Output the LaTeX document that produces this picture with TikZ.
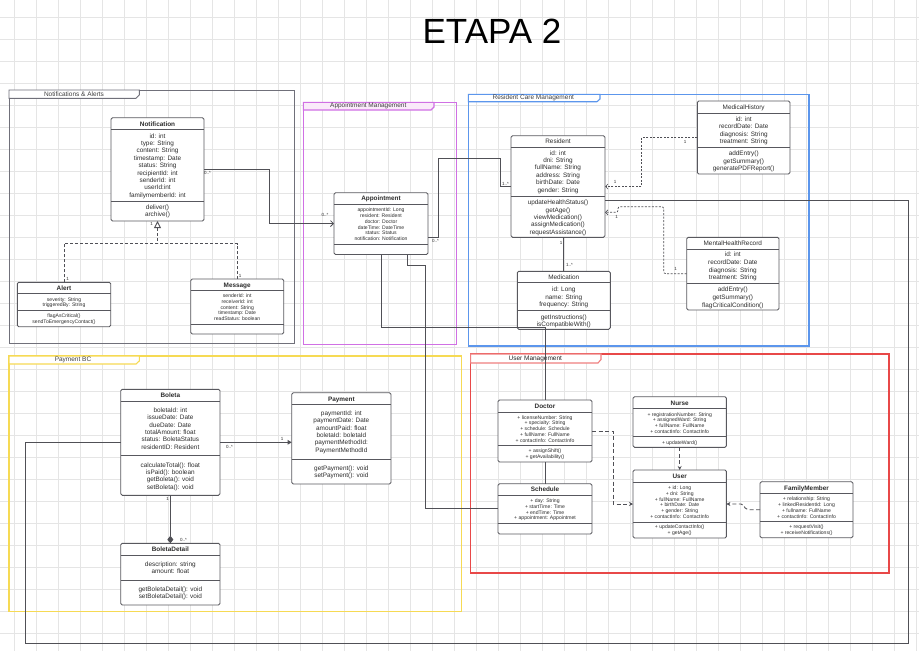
\documentclass[tikz,border=0pt]{standalone}
\usepackage{fontspec}
\setmainfont{Liberation Sans}
\usetikzlibrary{arrows.meta}

\definecolor{gridgray}{RGB}{229,229,229}
\definecolor{clsline}{RGB}{88,88,94}
\definecolor{txt}{RGB}{45,45,45}
\definecolor{conn}{RGB}{80,80,86}
\definecolor{notifgray}{RGB}{112,112,122}
\definecolor{apptpurple}{RGB}{208,112,228}
\definecolor{apptfill}{RGB}{250,234,250}
\definecolor{resblue}{RGB}{92,150,236}
\definecolor{payyellow}{RGB}{246,218,84}
\definecolor{userred}{RGB}{232,72,72}

% rows of a class compartment, baseline on the first row
\newcommand{\classrows}[1]{\begin{tabular}[t]{@{}c@{}}#1\end{tabular}}

\begin{document}
\begin{tikzpicture}[
    x=1pt, y=-1pt,
    every node/.style={text=txt, inner sep=0pt, outer sep=0pt},
    cls/.style={
        rectangle,
        draw=clsline,
        fill=white,
        line width=0.9pt,
        rounded corners=1.5pt,
        anchor=north west
    },
    sep/.style={draw=clsline, line width=0.9pt},
    hdr/.style={font=\fontsize{6.4}{7.4}\selectfont\bfseries, anchor=base},
    hdrlight/.style={font=\fontsize{6.4}{7.4}\selectfont, anchor=base},
    attr/.style={font=\fontsize{6.4}{7.4}\selectfont, anchor=base},
    attrsmall/.style={font=\fontsize{5.1}{5.75}\selectfont, anchor=base},
    mult/.style={font=\fontsize{4.5}{5}\selectfont},
    pkg/.style={line width=1.1pt},
    pkglbl/.style={font=\fontsize{6.5}{7.5}\selectfont, text=black!75},
    assoc/.style={draw=conn, line width=0.8pt},
    real/.style={draw=conn, line width=0.9pt, dash pattern=on 3pt off 2pt},
    dep/.style={draw=conn, line width=0.7pt, dash pattern=on 2pt off 1.5pt},
    dashdep/.style={draw=conn, line width=0.9pt, dash pattern=on 4pt off 2.5pt}
]

\fill[white] (0,0) rectangle (919,651);
\useasboundingbox (0,0) rectangle (919,651);

% background grid
\foreach \gx in {0,...,41}
    \draw[gridgray, line width=0.6pt] (14.7+22*\gx,0) -- (14.7+22*\gx,651);
\foreach \gy in {0,...,28}
    \draw[gridgray, line width=0.6pt] (0,17.3+22*\gy) -- (919,17.3+22*\gy);

\node[font=\fontsize{35}{40}\selectfont, text=black, anchor=base] (title) at (492,43) {ETAPA 2};

% packages
\draw[pkg, draw=notifgray, line width=0.9pt] (9,90) rectangle (294,343.3);
\draw[pkg, draw=notifgray, line width=0.9pt, fill=white] (9,90) -- (139.3,90) -- (139.3,95) -- (136,98.3) -- (9,98.3) -- cycle;
\node[pkglbl] (pkgnotif) at (74,94.4) {Notifications \& Alerts};

\draw[pkg, draw=apptpurple] (303.3,102.3) rectangle (456.7,344.3);
\draw[pkg, draw=apptpurple, fill=apptfill] (303.3,102.3) -- (434,102.3) -- (434,107) -- (431,110) -- (303.3,110) -- cycle;
\node[pkglbl] (pkgappt) at (368.3,106.2) {Appointment Management};

\draw[pkg, draw=resblue] (468.3,94.3) rectangle (809,346);
\draw[pkg, draw=resblue, fill=white] (468.3,94.3) -- (600,94.3) -- (600,99) -- (597,101.7) -- (468.3,101.7) -- cycle;
\node[pkglbl] (pkgres) at (533.3,98.1) {Resident Care Management};

\draw[pkg, draw=payyellow] (9,356) rectangle (461.6,611.7);
\draw[pkg, draw=payyellow, fill=white] (9,356) -- (139.3,356) -- (139.3,361) -- (136,364) -- (9,364) -- cycle;
\node[pkglbl] (pkgpay) at (73,360.1) {Payment BC};

\draw[pkg, draw=userred] (470.6,354) rectangle (889,573);
\draw[pkg, draw=userred!70, fill=white] (470.6,354) -- (601,354) -- (601,359.5) -- (598,363) -- (470.6,363) -- cycle;
\node[pkglbl, text=black!85] (pkguser) at (535.3,358.7) {User Management};

% Notification
\node[cls, minimum width=93, minimum height=103.3] (notif) at (111,117.7) {};
\draw[sep] (111,129.3) -- (204,129.3);
\draw[sep] (111,201.7) -- (204,201.7);
\node[hdr] (notifT) at (157.5,126.3) {Notification};
\node[attr] (notifA) at (157.5,138) {\classrows{id: int\\type: String\\content: String\\timestamp: Date\\status: String\\recipientId: int\\senderId: int\\userId:int\\familymemberId: int}};
\node[attr] (notifM) at (157.5,209.4) {\classrows{deliver()\\archive()}};

% Alert
\node[cls, minimum width=93.4, minimum height=44.4] (alert) at (17.3,282.3) {};
\draw[sep] (17.3,293.3) -- (110.7,293.3);
\draw[sep] (17.3,310) -- (110.7,310);
\node[hdr] (alertT) at (64,290.3) {Alert};
\node[attrsmall] (alertA) at (64,301.1) {\classrows{severity: String\\triggeredBy: String}};
\node[attrsmall] (alertM) at (64,317.8) {\classrows{flagAsCritical()\\sendToEmergencyContact()}};

% Message
\node[cls, minimum width=93, minimum height=55] (msg) at (190.7,279) {};
\draw[sep] (190.7,290) -- (283.7,290);
\draw[sep] (190.7,324) -- (283.7,324);
\node[hdr] (msgT) at (237.2,287.3) {Message};
\node[attrsmall] (msgA) at (237.2,297.5) {\classrows{senderId: int\\receiverId: int\\content: String\\timestamp: Date\\readStatus: boolean}};

% Appointment
\node[cls, minimum width=94, minimum height=61.8] (appt) at (334,192.7) {};
\draw[sep] (334,204) -- (428,204);
\draw[sep] (334,244) -- (428,244);
\node[hdr] (apptT) at (381,200.8) {Appointment};
\node[attrsmall] (apptA) at (381,211.8) {\classrows{appointmentId: Long\\resident: Resident\\doctor: Doctor\\dateTime: DateTime\\status: Status\\notification: Notification}};

% Resident
\node[cls, minimum width=94, minimum height=101.6] (resid) at (511,135.7) {};
\draw[sep] (511,147.3) -- (605,147.3);
\draw[sep] (511,196.7) -- (605,196.7);
\node[hdrlight] (residT) at (558,143) {Resident};
\node[attr] (residA) at (558,155) {\classrows{id: int\\dni: String\\fullName: String\\address: String\\birthDate: Date\\gender: String}};
\node[attr] (residM) at (558,204.6) {\classrows{updateHealthStatus()\\getAge()\\viewMedication()\\assignMedication()\\requestAssistance()}};

% MedicalHistory
\node[cls, minimum width=92.7, minimum height=73] (medhist) at (697.3,101) {};
\draw[sep] (697.3,113.3) -- (790,113.3);
\draw[sep] (697.3,147.3) -- (790,147.3);
\node[hdrlight] (medhistT) at (743.7,109) {MedicalHistory};
\node[attr, font=\fontsize{6.4}{7.35}\selectfont] (medhistA) at (743.7,121.3) {\classrows{id: int\\recordDate: Date\\diagnosis: String\\treatment: String}};
\node[attr, font=\fontsize{6.4}{7.7}\selectfont] (medhistM) at (743.7,155.3) {\classrows{addEntry()\\getSummary()\\generatePDFReport()}};

% MentalHealthRecord
\node[cls, minimum width=92.3, minimum height=72.7] (mhrec) at (686.7,237.3) {};
\draw[sep] (686.7,249) -- (779,249);
\draw[sep] (686.7,283.3) -- (779,283.3);
\node[hdrlight] (mhrecT) at (732.8,245) {MentalHealthRecord};
\node[attr, font=\fontsize{6.4}{7.75}\selectfont] (mhrecA) at (732.8,256.6) {\classrows{id: int\\recordDate: Date\\diagnosis: String\\treatment: String}};
\node[attr, font=\fontsize{6.4}{7.7}\selectfont] (mhrecM) at (732.8,291.6) {\classrows{addEntry()\\getSummary()\\flagCriticalCondition()}};

% Medication
\node[cls, minimum width=93, minimum height=58] (medic) at (517.3,271.3) {};
\draw[sep] (517.3,282.7) -- (610.3,282.7);
\draw[sep] (517.3,310) -- (610.3,310);
\node[hdrlight] (medicT) at (563.8,279.6) {Medication};
\node[attr, font=\fontsize{6.4}{7.5}\selectfont] (medicA) at (563.8,291.6) {\classrows{id: Long\\name: String\\frequency: String}};
\node[attr, font=\fontsize{6.4}{7.6}\selectfont] (medicM) at (563.8,319) {\classrows{getInstructions()\\isCompatibleWith()}};

% Boleta
\node[cls, minimum width=99.3, minimum height=106] (boleta) at (120.7,389.3) {};
\draw[sep] (120.7,401) -- (220,401);
\draw[sep] (120.7,455.3) -- (220,455.3);
\node[hdr] (boletaT) at (170.35,397.3) {Boleta};
\node[attr] (boletaA) at (170.35,412.3) {\classrows{boletaId: int\\issueDate: Date\\dueDate: Date\\totalAmount: float\\status: BoletaStatus\\residentID: Resident}};
\node[attr, font=\fontsize{6.4}{7.25}\selectfont] (boletaM) at (170.35,467.3) {\classrows{calculateTotal(): float\\isPaid(): boolean\\getBoleta(): void\\setBoleta(): void}};

% Payment
\node[cls, minimum width=99.3, minimum height=91.3] (pay) at (291.7,392.7) {};
\draw[sep] (291.7,404) -- (391,404);
\draw[sep] (291.7,459) -- (391,459);
\node[hdr] (payT) at (341.35,401) {Payment};
\node[attr] (payA) at (341.35,415.3) {\classrows{paymentId: int\\paymentDate: Date\\amountPaid: float\\boletaId: boletaId\\paymentMethodId:\\PaymentMethodId}};
\node[attr, font=\fontsize{6.4}{7.6}\selectfont] (payM) at (341.35,470.3) {\classrows{getPayment(): void\\setPayment(): void}};

% BoletaDetail
\node[cls, minimum width=99.3, minimum height=61.7] (bdetail) at (120.7,543.3) {};
\draw[sep] (120.7,555) -- (220,555);
\draw[sep] (120.7,580) -- (220,580);
\node[hdr] (bdetailT) at (170.35,551.3) {BoletaDetail};
\node[attr, font=\fontsize{6.4}{7.3}\selectfont] (bdetailA) at (170.35,566.3) {\classrows{description: string\\amount: float}};
\node[attr, font=\fontsize{6.4}{7.3}\selectfont] (bdetailM) at (170.35,591.3) {\classrows{getBoletaDetail(): void\\setBoletaDetail(): void}};

% Doctor
\node[cls, minimum width=94, minimum height=62] (doctor) at (498,400) {};
\draw[sep] (498,412) -- (592,412);
\draw[sep] (498,445.7) -- (592,445.7);
\node[hdr] (doctorT) at (545,408) {Doctor};
\node[attrsmall] (doctorA) at (545,419.1) {\classrows{+ licenseNumber: String\\+ specialty: String\\+ schedule: Schedule\\+ fullName: FullName\\+ contactInfo: ContactInfo}};
\node[attrsmall, font=\fontsize{5.1}{6}\selectfont] (doctorM) at (545,452.8) {\classrows{+ assignShift()\\+ getAvailability()}};

% Schedule
\node[cls, minimum width=94, minimum height=50.3] (sched) at (498,483.7) {};
\draw[sep] (498,495.3) -- (592,495.3);
\draw[sep] (498,523) -- (592,523);
\node[hdr] (schedT) at (545,491.6) {Schedule};
\node[attrsmall] (schedA) at (545,502.5) {\classrows{+ day: String\\+ startTime: Time\\+ endTime: Time\\+ appointment: Appointmet}};

% Nurse
\node[cls, minimum width=93.4, minimum height=50.6] (nurse) at (633,396.7) {};
\draw[sep] (633,408.7) -- (726.4,408.7);
\draw[sep] (633,436.7) -- (726.4,436.7);
\node[hdr] (nurseT) at (679.7,405) {Nurse};
\node[attrsmall] (nurseA) at (679.7,416.1) {\classrows{+ registrationNumber: String\\+ assignedWard: String\\+ fullName: FullName\\+ contactInfo: ContactInfo}};
\node[attrsmall] (nurseM) at (679.7,444.1) {+ updateWard()};

% User
\node[cls, minimum width=93.4, minimum height=68] (user) at (633,470) {};
\draw[sep] (633,482) -- (726.4,482);
\draw[sep] (633,522) -- (726.4,522);
\node[hdr] (userT) at (679.7,478.6) {User};
\node[attrsmall] (userA) at (679.7,489.5) {\classrows{+ id: Long\\+ dni: String\\+ fullName: FullName\\+ birthDate: Date\\+ gender: String\\+ contactInfo: ContactInfo}};
\node[attrsmall, font=\fontsize{5.1}{6}\selectfont] (userM) at (679.7,528.3) {\classrows{+ updateContactInfo()\\+ getAge()}};

% FamilyMember
\node[cls, minimum width=93, minimum height=56] (family) at (760,481.7) {};
\draw[sep] (760,493.3) -- (853,493.3);
\draw[sep] (760,521.7) -- (853,521.7);
\node[hdr] (familyT) at (806.5,490) {FamilyMember};
\node[attrsmall] (familyA) at (806.5,500.8) {\classrows{+ relationship: String\\+ linkedResidentId: Long\\+ fullname: FullName\\+ contactInfo: ContactInfo}};
\node[attrsmall, font=\fontsize{5.1}{6}\selectfont] (familyM) at (806.5,528.8) {\classrows{+ requestVisit()\\+ receiveNotifications()}};

% connectors
\draw[assoc, -{Straight Barb[length=3pt,width=6pt]}] (notif.east) -- ++(65,0) |- (appt.west);
\draw[assoc] ([yshift=-13.5]appt.east) -- ++(10.5,0) |- (500,158.3) |- (resid.west);
\draw[dep, -{Straight Barb[length=2.5pt,width=5pt]}] (medhist.west) -- ++(-55.6,0) |- (resid.east);
\draw[dep, rounded corners=2pt, -{Straight Barb[length=2.5pt,width=5pt]}] (mhrec.west) -- ++(-23,0) |- (618,206.7) -- (618,212.3) -- ([yshift=-25.8]resid.east);
\draw[assoc] (medic.north) -- (medic.north |- resid.south);
\draw[assoc] ([yshift=-13.5]resid.east) -- (908,200) -- (908,643) -- (25,643) |- (boleta.west);
\draw[assoc, -{Triangle[length=4pt,width=4.5pt]}] (boleta.east) -- (boleta.east -| pay.west);
\draw[assoc, -{Diamond[length=7.5pt,width=6pt]}] (boleta.south) -- (bdetail.north);

\coordinate (genjoin) at (157.5,243.7);
\draw[real, -{Triangle[fill=white,length=7pt,width=7pt]}] (alert.north) |- (genjoin) -- (notif.south);
\draw[real] (msg.north) |- (genjoin);

\draw[assoc] (appt.south) -- ++(0,72.5) -| (doctor.north);
\draw[assoc] ([xshift=26.5]appt.south) -- ++(0,11.2) -- ++(18,0) |- (sched.west);
\draw[assoc] (doctor.south) -- (sched.north);
\draw[dashdep, -{Stealth[length=4pt,width=4pt]}] (doctor.east) -- ++(21,0) |- (user.west);
\draw[dashdep, -{Stealth[length=4pt,width=4pt]}] (nurse.south) -- (user.north);
\draw[dashdep, rounded corners=2pt, -{Stealth[length=4pt,width=4pt]}] (family.west) -- ++(-14,0) -- ++(-3,-5.7) -- (user.east);

% multiplicities
\node[mult] (m1) at (207.5,172.7) {0..*};
\node[mult] (m2) at (325,215) {0..*};
\node[mult] (m3) at (435.5,240.5) {0..*};
\node[mult] (m4) at (505.5,184) {1..*};
\node[mult] (m5) at (685,141.7) {1};
\node[mult] (m6) at (615,182.3) {1};
\node[mult] (m7) at (675.7,269) {1};
\node[mult] (m8) at (616.7,216.7) {1};
\node[mult] (m9) at (561,243.3) {1};
\node[mult] (m10) at (569.5,265) {1..*};
\node[mult] (m11) at (229.5,446.7) {0..*};
\node[mult] (m12) at (282,439) {1};
\node[mult] (m13) at (167.7,499) {1};
\node[mult] (m14) at (183.5,540) {0..*};
\node[mult] (m15) at (151.7,224) {1};
\node[mult] (m16) at (67.7,279) {1};
\node[mult] (m17) at (240,276) {1};

\end{tikzpicture}
\end{document}
